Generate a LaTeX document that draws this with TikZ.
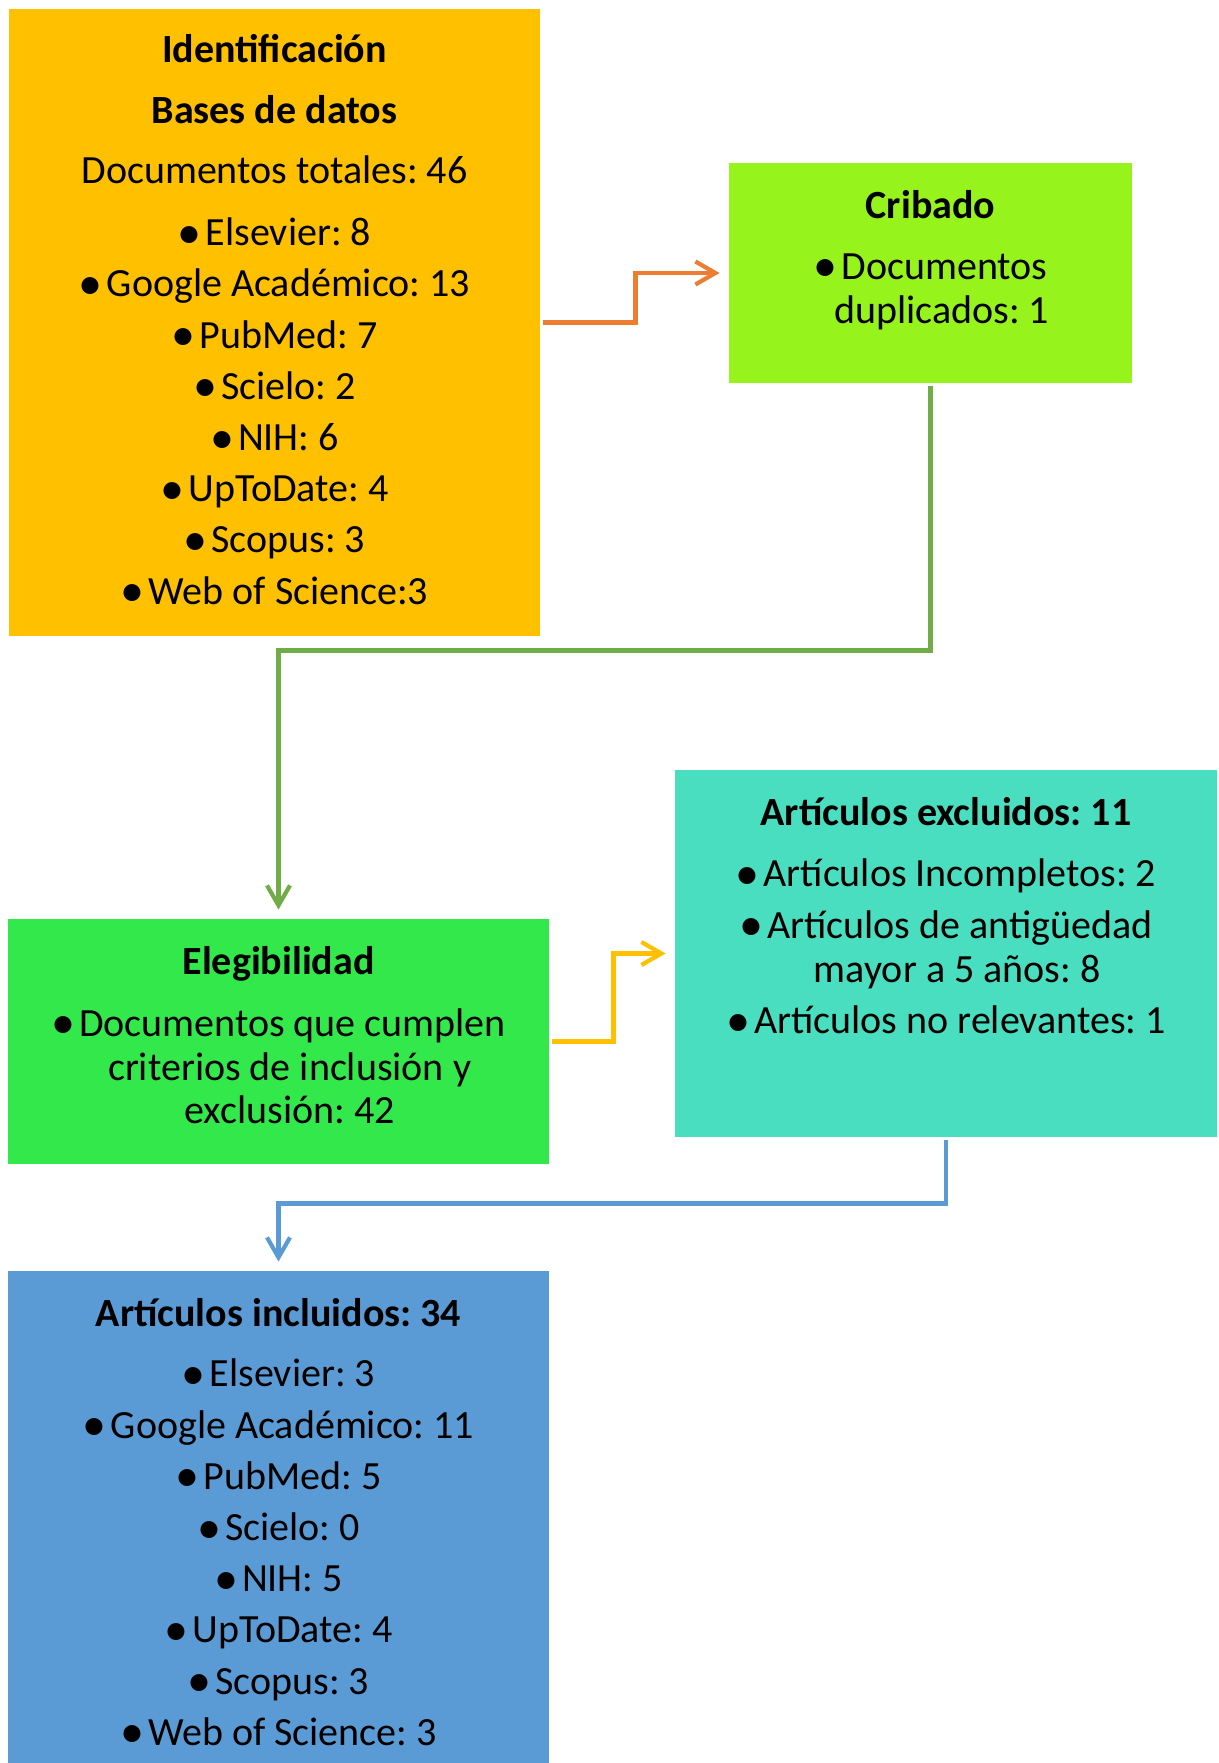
\documentclass[tikz,border=0pt]{standalone}
\usepackage{fontspec}
\setmainfont{Carlito}
\usetikzlibrary{arrows.meta}
\definecolor{cOrangeBox}{HTML}{FFC000}
\definecolor{cCrib}{HTML}{96F31B}
\definecolor{cElig}{HTML}{33E84A}
\definecolor{cExcl}{HTML}{48DEBF}
\definecolor{cIncl}{HTML}{5B9BD5}
\definecolor{lOrange}{HTML}{ED7D31}
\definecolor{lGreen}{HTML}{70AD47}
\definecolor{lYellow}{HTML}{FFC000}
\definecolor{lBlue}{HTML}{5B9BD5}
\newcommand\bul{\raisebox{-1.3pt}{\fontsize{24}{24}\selectfont •}\hspace{2pt}}
\newcommand\cont{\hspace*{11.2pt}}
\newcommand\rs{\rule{0pt}{18pt}}
\lineskiplimit=-100pt
\frenchspacing
\begin{document}
\begin{tikzpicture}[x=0.5pt,y=-0.5pt,
  boxnode/.style={rectangle, inner sep=0pt, draw=none},
  txt/.style={anchor=north, align=center, inner sep=0pt,
    font=\fontsize{20}{21.95}\selectfont\frenchspacing},
  conn/.style={line width=2.1pt, -{Straight Barb[length=10pt,width=11.5pt]},
    shorten <=1.5pt, shorten >=4.5pt}]
\useasboundingbox (0,0) rectangle (1219,1763);
% boxes
\node[boxnode, fill=cOrangeBox, minimum width=265.5pt, minimum height=313.5pt] (ident) at (274.5,322.5) {};
\node[boxnode, fill=cCrib, minimum width=201.5pt, minimum height=110pt] (crib) at (930.5,273) {};
\node[boxnode, fill=cElig, minimum width=270.5pt, minimum height=122.5pt] (elig) at (278.5,1041.5) {};
\node[boxnode, fill=cExcl, minimum width=271pt, minimum height=183.5pt] (excl) at (946,953.5) {};
\node[boxnode, fill=cIncl, minimum width=270.5pt, minimum height=246pt] (incl) at (278.5,1517) {};
% texts
\node[txt] (identT) at (274.5,26) {\rs\textbf{Identificación}\\[8.4pt]
\textbf{Bases de datos}\\[8.4pt]
Documentos totales: 46\\[9pt]
\bul Elsevier: 8\\[3.65pt]
\bul Google Académico: 13\\[3.65pt]
\bul PubMed: 7\\[3.65pt]
\bul Scielo: 2\\[3.65pt]
\bul NIH: 6\\[3.65pt]
\bul UpToDate: 4\\[3.65pt]
\bul Scopus: 3\\[3.65pt]
\bul Web of Science:3};
\node[txt] (cribT) at (930.5,182) {\rs\textbf{Cribado}\\[8.4pt]
\bul Documentos\\
\cont duplicados: 1};
\node[txt] (exclT) at (946,789.4) {\rs\textbf{Artículos excluidos: 11}\\[8.4pt]
\bul Artículos Incompletos: 2\\[3.9pt]
\bul Artículos de antigüedad\\
\cont mayor a 5 años: 8\\[3.9pt]
\bul Artículos no relevantes: 1};
\node[txt] (eligT) at (278.5,937.8) {\rs\textbf{Elegibilidad}\\[9pt]
\bul Documentos que cumplen\\
\cont criterios de inclusión y\\
\cont exclusión: 42};
\node[txt] (inclT) at (278.5,1289.8) {\rs\textbf{Artículos incluidos: 34}\\[8.4pt]
\bul Elsevier: 3\\[3.65pt]
\bul Google Académico: 11\\[3.65pt]
\bul PubMed: 5\\[3.65pt]
\bul Scielo: 0\\[3.65pt]
\bul NIH: 5\\[3.65pt]
\bul UpToDate: 4\\[3.65pt]
\bul Scopus: 3\\[3.65pt]
\bul Web of Science: 3};
% connectors
\draw[conn, lOrange] (ident.east) -- ++(95,0) |- (crib.west);
\draw[conn, lGreen] (crib.south) -- ++(0,267) -| (elig.north);
\draw[conn, lYellow] (elig.east) -- ++(64,0) |- (excl.west);
\draw[conn, lBlue] (excl.south) -- ++(0,66) -| (incl.north);
\end{tikzpicture}
\end{document}
